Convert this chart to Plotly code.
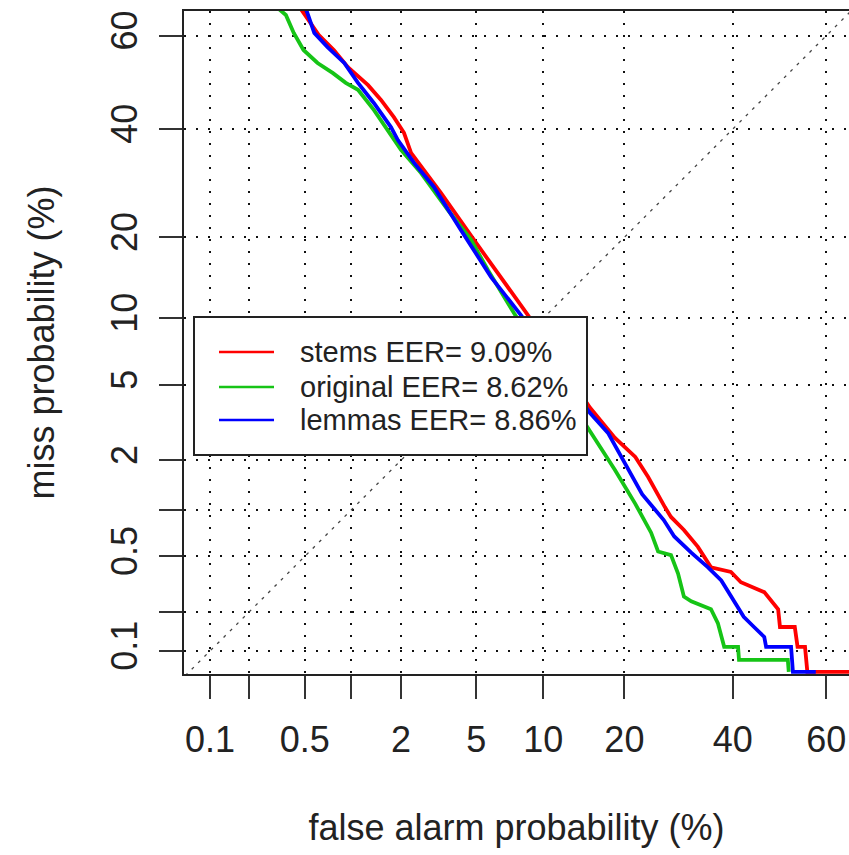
import plotly.graph_objects as go
from statistics import NormalDist

ND = NormalDist()

# ---------------- data (percent) ----------------
series_names = ["stems EER= 9.09%", "original EER= 8.62%", "lemmas EER= 8.86%"]
series_colors = ["#ff0000", "#16c416", "#0000ff"]

stems_fa = [0.47, 0.62, 0.78, 0.96, 1.28, 1.53, 1.82, 2.08, 2.28, 3.31, 4.87, 6.54, 8.61,
            15.2, 18.6, 21.7, 23.8, 26.7, 27.8, 30.2, 32.9, 35.5, 39.6, 41.7, 44.5, 46.7,
            49.7, 50.1, 53.3, 53.9, 55.5, 56.0, 100]
stems_miss = [65.5, 60.2, 57.0, 53.3, 49.4, 46.2, 42.5, 39.2, 35.1, 27.4, 19.6, 14.5, 10.3,
              3.85, 2.67, 2.09, 1.60, 1.05, 0.91, 0.75, 0.58, 0.42, 0.39, 0.33, 0.30, 0.28,
              0.21, 0.154, 0.154, 0.108, 0.108, 0, 0]

original_fa = [0.33, 0.37, 0.42, 0.49, 0.61, 0.77, 0.93, 1.11, 1.39, 2.00, 2.59, 3.60, 4.71,
               5.68, 7.48, 15.2, 18.6, 21.7, 24.3, 25.5, 27.8, 29.1, 30.2, 31.6, 35.5, 36.9,
               38.2, 41.1, 41.3, 51.8, 52.0]
original_miss = [65.5, 64.3, 60.6, 57.0, 54.2, 52.0, 49.9, 48.4, 44.0, 35.7, 31.1, 24.4, 19.6,
                 15.4, 10.5, 2.87, 1.76, 1.10, 0.72, 0.54, 0.51, 0.38, 0.26, 0.24, 0.21, 0.165,
                 0.108, 0.108, 0.085, 0.085, 0]

lemmas_fa = [0.51, 0.58, 0.71, 0.91, 1.11, 1.39, 1.75, 1.92, 2.37, 3.04, 4.20, 5.88, 8.03,
             15.2, 17.6, 19.6, 22.8, 26.5, 28.4, 31.6, 34.9, 37.6, 39.6, 42.3, 44.5, 46.7,
             47.1, 52.5, 52.9, 57.8]
lemmas_miss = [65.5, 60.6, 57.6, 54.2, 49.9, 45.5, 40.4, 37.7, 33.1, 28.5, 21.1, 14.5, 10.3,
               3.62, 2.84, 2.09, 1.26, 0.87, 0.68, 0.53, 0.42, 0.34, 0.26, 0.184, 0.154, 0.129,
               0.108, 0.108, 0, 0]

tick_pct = [0.1, 0.2, 0.5, 1, 2, 5, 10, 20, 40, 60]
tick_text = ["0.1", "", "0.5", "", "2", "5", "10", "20", "40", "60"]

X_RANGE = [-3.231, 0.377]
Y_RANGE = [-3.215, 0.388]


def probit(values, lo, hi):
    out = []
    for v in values:
        q = v / 100.0
        if q <= 0:
            out.append(lo)
        elif q >= 1:
            out.append(hi)
        else:
            out.append(ND.inv_cdf(q))
    return out


X_LO, X_HI = X_RANGE[0] - 0.5, X_RANGE[1] + 0.5
Y_LO, Y_HI = Y_RANGE[0] + 0.012, Y_RANGE[1] + 0.5

tick_z = [ND.inv_cdf(p / 100.0) for p in tick_pct]

FONT = "Liberation Sans, Arial, Helvetica, sans-serif"
fig = go.Figure()

# diagonal (EER line)
d_lo = min(X_RANGE[0], Y_RANGE[0]) - 0.2
d_hi = max(X_RANGE[1], Y_RANGE[1]) + 0.2
fig.add_trace(go.Scatter(x=[d_lo, d_hi], y=[d_lo, d_hi], mode="lines",
                         line=dict(color="#444444", width=1.3, dash="3px,6px"),
                         showlegend=False, hoverinfo="skip"))

for name, color, fa, miss in zip(series_names, series_colors,
                                 [stems_fa, original_fa, lemmas_fa],
                                 [stems_miss, original_miss, lemmas_miss]):
    fig.add_trace(go.Scatter(x=probit(fa, X_LO, X_HI), y=probit(miss, Y_LO, Y_HI),
                             mode="lines", name=name,
                             line=dict(color=color, width=3.8),
                             showlegend=False))

axis_common = dict(
    tickmode="array", tickvals=tick_z, ticktext=tick_text,
    showgrid=True, gridcolor="#111111", gridwidth=1.6, griddash="2px,10px",
    zeroline=False, showline=True, linecolor="#222222", linewidth=2,
    ticks="outside", ticklen=23, tickwidth=2, tickcolor="#333333",
    tickfont=dict(family=FONT, size=36, color="#222222"),
)

fig.update_xaxes(range=X_RANGE, mirror=True, ticklabelstandoff=10,
                 title=dict(text="false alarm probability (%)", standoff=56,
                            font=dict(family=FONT, size=36, color="#222222")),
                 **axis_common)
fig.update_yaxes(range=Y_RANGE, mirror=False, tickangle=-90, ticklabelstandoff=8,
                 title=dict(text="miss probability (%)", standoff=38,
                            font=dict(family=FONT, size=36, color="#222222")),
                 **axis_common)

# legend (drawn manually to match the original layout)
PW, PH, PL, PB = 665.0, 663.0, 184.0, 674.0


def px(xp):
    return (xp - PL) / PW


def py(yp):
    return (PB - yp) / PH


shapes = [dict(type="rect", xref="paper", yref="paper",
               x0=px(194), x1=px(587), y0=py(455), y1=py(317),
               fillcolor="white", line=dict(color="#222222", width=2), layer="above")]
annotations = []
rows = [352, 387, 420]
for name, color, ry in zip(series_names, series_colors, rows):
    shapes.append(dict(type="line", xref="paper", yref="paper",
                       x0=px(219), x1=px(274), y0=py(ry), y1=py(ry),
                       line=dict(color=color, width=2.5), layer="above"))
    annotations.append(dict(xref="paper", yref="paper", x=px(298), y=py(ry),
                            xanchor="left", yanchor="middle", showarrow=False,
                            text=name, font=dict(family=FONT, size=29, color="#222222")))

fig.update_layout(
    width=849, height=855,
    margin=dict(l=184, r=0, t=11, b=181, autoexpand=False),
    plot_bgcolor="white", paper_bgcolor="white",
    shapes=shapes, annotations=annotations,
    showlegend=False,
)

fig.write_html("out.html")
